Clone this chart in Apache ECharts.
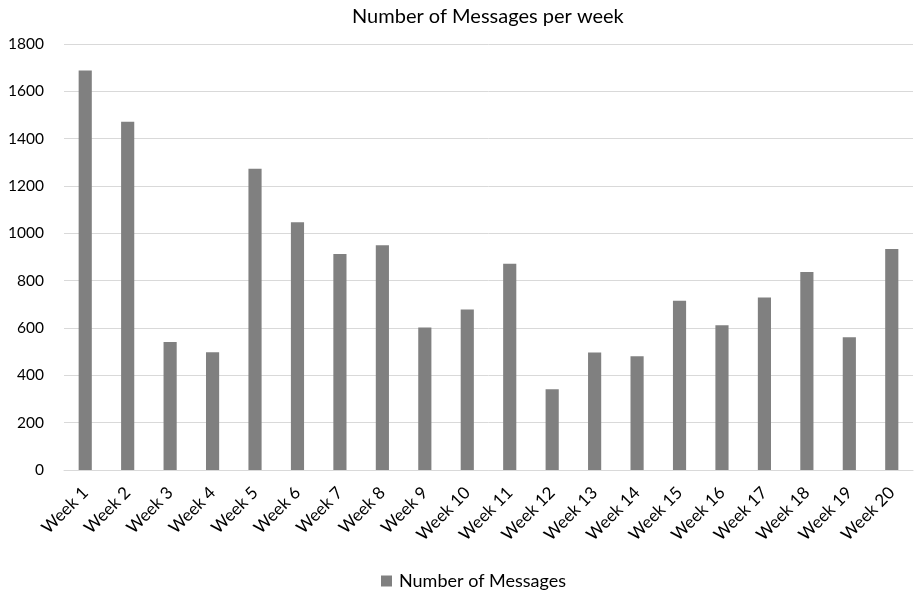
<!DOCTYPE html>
<html><head><meta charset="utf-8">
<script src="https://cdn.jsdelivr.net/npm/echarts@6/dist/echarts.min.js"></script>
<style>html,body{margin:0;padding:0;background:#fff}#c{width:916px;height:595px}</style>
</head><body><div id="c"></div>
<script>
const categories = ["Week 1","Week 2","Week 3","Week 4","Week 5","Week 6","Week 7","Week 8","Week 9","Week 10","Week 11","Week 12","Week 13","Week 14","Week 15","Week 16","Week 17","Week 18","Week 19","Week 20"];
const messages = [1688,1471,541,498,1273,1047,913,950,602,678,872,341,496,481,715,612,729,837,561,934];
const seriesName = "Number of Messages";
const titleText = "Number of Messages per week";

const font = "Lato, 'Open Sans', sans-serif";
const chart = echarts.init(document.getElementById('c'), null, {renderer:'canvas'});
chart.setOption({
  animation:false,
  backgroundColor:'#fff',
  title:{text:titleText,left:347,top:2,textStyle:{fontFamily:font,fontSize:20,fontWeight:'normal',color:'#000'}},
  legend:{data:[seriesName],top:567,left:376,icon:'rect',itemWidth:11,itemHeight:11,itemGap:4,
    textStyle:{fontFamily:font,fontSize:18,color:'#000',padding:[0,0,0,2]}},
  grid:{left:64,right:3,top:44,bottom:125,containLabel:false},
  xAxis:{type:'category',data:categories,
    axisLine:{show:true,lineStyle:{color:'#d9d9d9',width:1}},
    axisTick:{show:false},
    axisLabel:{interval:0,rotate:45,fontFamily:font,fontSize:17,color:'#000',margin:20}},
  yAxis:{type:'value',min:0,max:1800,interval:200,
    axisLine:{show:false},axisTick:{show:false},
    splitLine:{lineStyle:{color:'#d9d9d9',width:1}},
    axisLabel:{fontFamily:font,fontSize:15.5,color:'#000',margin:20,formatter:function(v){return String(v);}}},
  series:[{name:seriesName,type:'bar',data:messages,barWidth:'31%',
    itemStyle:{color:'#808080'}}]
});
</script></body></html>
